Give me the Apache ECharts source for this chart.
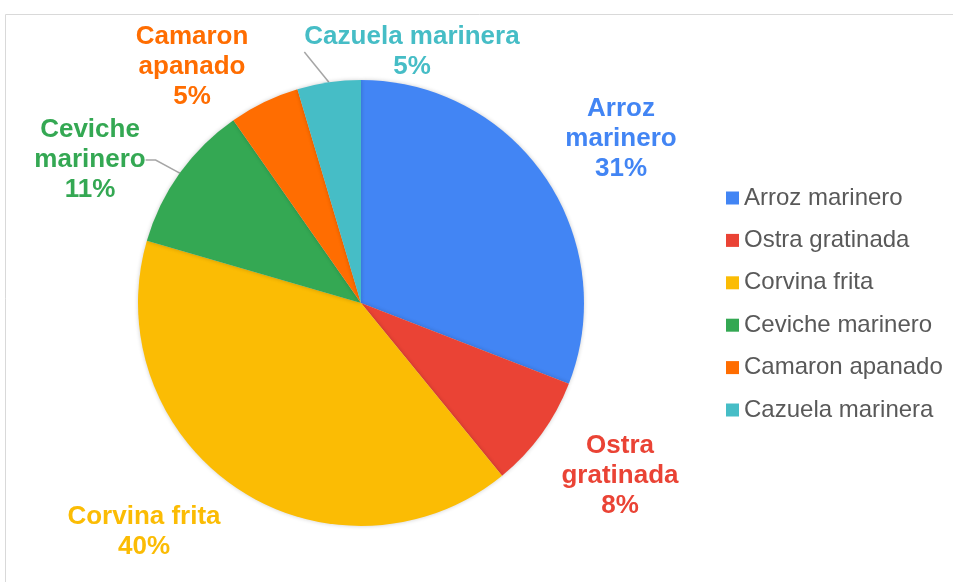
<!DOCTYPE html>
<html>
<head>
<meta charset="utf-8">
<style>
  html, body { margin: 0; padding: 0; background: #fff; }
  #chart { width: 953px; height: 582px; }
</style>
<script src="https://cdn.jsdelivr.net/npm/echarts@6/dist/echarts.min.js"></script>
</head>
<body>
<div id="chart"></div>
<script>
'use strict'

const NAMES = ['Arroz marinero', 'Ostra gratinada', 'Corvina frita', 'Ceviche marinero', 'Camaron apanado', 'Cazuela marinera']
const LABEL_NAMES = ['Arroz\nmarinero', 'Ostra\ngratinada', 'Corvina frita', 'Ceviche\nmarinero', 'Camaron\napanado', 'Cazuela marinera']
const VALUES = [30.9, 8.2, 40.4, 10.8, 5.1, 4.6]
const COLORS = ['#4285f4', '#ea4335', '#fbbc04', '#34a853', '#ff6d01', '#46bdc6']

// where each outside label sits (centre of the text block)
const LABEL_POS = [[621, 139], [620, 476], [144, 532], [90, 160], [192, 67], [412, 52]]
const SHOW_LINE = [false, false, false, true, false, true]

const chart = echarts.init(document.getElementById('chart'))

const data = NAMES.map((name, i) => ({
  name,
  value: VALUES[i],
  itemStyle: { color: COLORS[i] },
  label: { color: COLORS[i] },
  labelLine: { show: SHOW_LINE[i] }
}))

chart.setOption({
  animation: false,
  graphic: [{
    type: 'rect',
    shape: { x: 5.5, y: 14.5, width: 1000, height: 1000 },
    style: { fill: 'none', stroke: '#d9d9d9', lineWidth: 1 },
    silent: true
  }],
  legend: {
    orient: 'vertical',
    left: 721,
    top: 180,
    icon: 'rect',
    itemWidth: 13,
    itemHeight: 13,
    itemGap: 16.4,
    data: NAMES,
    textStyle: { fontFamily: 'Liberation Sans', fontSize: 24, color: '#595959', lineHeight: 26 }
  },
  series: [{
    type: 'pie',
    center: [361, 303],
    radius: 223,
    startAngle: 90,
    clockwise: true,
    avoidLabelOverlap: false,
    itemStyle: { borderWidth: 0, shadowBlur: 4, shadowColor: 'rgba(0,0,0,0.2)' },
    label: {
      show: true,
      position: 'outside',
      fontFamily: 'Liberation Sans',
      fontWeight: 'bold',
      fontSize: 26,
      lineHeight: 30,
      align: 'center',
      formatter: p => LABEL_NAMES[p.dataIndex] + '\n' + Math.round(p.percent) + '%'
    },
    labelLine: { lineStyle: { color: '#a6a6a6', width: 1.5 }, length: 10, length2: 10 },
    labelLayout: p => ({
      x: LABEL_POS[p.dataIndex][0],
      y: LABEL_POS[p.dataIndex][1],
      align: 'center',
      verticalAlign: 'middle'
    }),
    data
  }]
})
</script>
</body>
</html>
